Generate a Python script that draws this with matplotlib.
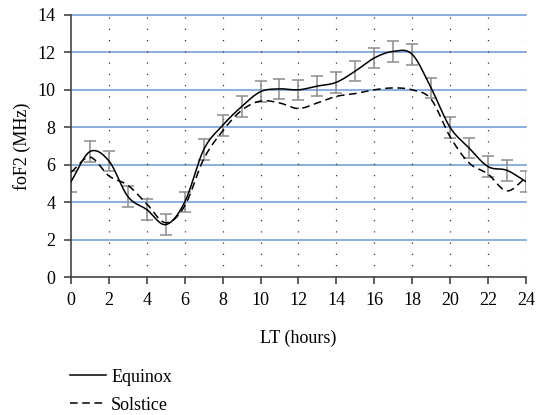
import numpy as np
import matplotlib
matplotlib.use('Agg')
import matplotlib.pyplot as plt

hours = list(range(25))
equinox = [5.1, 6.7, 6.2, 4.3, 3.6, 2.8, 4.0, 6.8, 8.1, 9.1, 9.9, 10.05, 10.0,
           10.2, 10.4, 11.0, 11.7, 12.05, 11.9, 10.1, 8.0, 6.9, 5.9, 5.7, 5.1]
solstice = [5.6, 6.4, 5.4, 4.9, 3.9, 2.9, 3.8, 6.3, 7.8, 8.9, 9.4, 9.3, 9.0,
            9.3, 9.65, 9.8, 10.0, 10.1, 10.0, 9.5, 7.5, 6.1, 5.5, 4.6, 5.3]
err = [0.55] * 25
xticks = list(range(0, 25, 2))
yticks = list(range(0, 15, 2))


def smooth(x, y, n=20):
    # catmull-rom curve through the points, only for drawing the line
    x = np.asarray(x, float)
    y = np.asarray(y, float)
    px = np.concatenate([[2 * x[0] - x[1]], x, [2 * x[-1] - x[-2]]])
    py = np.concatenate([[2 * y[0] - y[1]], y, [2 * y[-1] - y[-2]]])
    xs, ys = [], []
    t = np.linspace(0, 1, n, endpoint=False)
    for i in range(1, len(px) - 2):
        for p, out in ((px, xs), (py, ys)):
            p0, p1, p2, p3 = p[i - 1], p[i], p[i + 1], p[i + 2]
            out.extend(0.5 * ((2 * p1) + (-p0 + p2) * t
                              + (2 * p0 - 5 * p1 + 4 * p2 - p3) * t ** 2
                              + (-p0 + 3 * p1 - 3 * p2 + p3) * t ** 3))
    xs.append(x[-1])
    ys.append(y[-1])
    return np.array(xs), np.array(ys)


plt.rcParams['font.family'] = ['Liberation Serif', 'DejaVu Serif']
fs = 13

fig = plt.figure(figsize=(5.36, 4.15), dpi=100)
ax = fig.add_axes([0.1325, 0.3325, 0.8485, 0.6315])

for yv in yticks[1:]:
    ax.axhline(yv, color='#6a9ad4', lw=1.1, zorder=1, clip_on=False)
for xv in xticks[1:]:
    ax.axvline(xv, color='#333333', lw=0.9, linestyle=(0, (1, 8)), zorder=1)

ax.errorbar(hours, equinox, yerr=err, fmt='none', ecolor='#8c8c8c',
            elinewidth=1.1, capsize=4.5, capthick=1.1, zorder=2)

sx, sy = smooth(hours, equinox)
ax.plot(sx, sy, color='black', lw=1.1, label='Equinox', zorder=3)
sx, sy = smooth(hours, solstice)
ax.plot(sx, sy, color='black', lw=1.1, linestyle=(0, (5, 3)), label='Solstice', zorder=3)

ax.set_xlim(0, 24)
ax.set_ylim(0, 14)
ax.set_xticks(xticks)
ax.set_yticks(yticks)
for s in ['top', 'right']:
    ax.spines[s].set_visible(False)
for s in ['left', 'bottom']:
    ax.spines[s].set_color('#444444')
    ax.spines[s].set_linewidth(1.2)
ax.tick_params(direction='out', length=5, width=1.2, color='#444444', labelsize=fs, pad=6)
ax.set_xlabel('LT (hours)', fontsize=fs, labelpad=15)
ax.set_ylabel('foF2 (MHz)', fontsize=fs, labelpad=5)

ax.legend(loc='upper left', bbox_to_anchor=(-0.003, -0.35), frameon=False,
          handlelength=2.0, handletextpad=0.3, labelspacing=0.6, fontsize=fs,
          borderaxespad=0, borderpad=0)

fig.savefig('out.png', dpi=100)
